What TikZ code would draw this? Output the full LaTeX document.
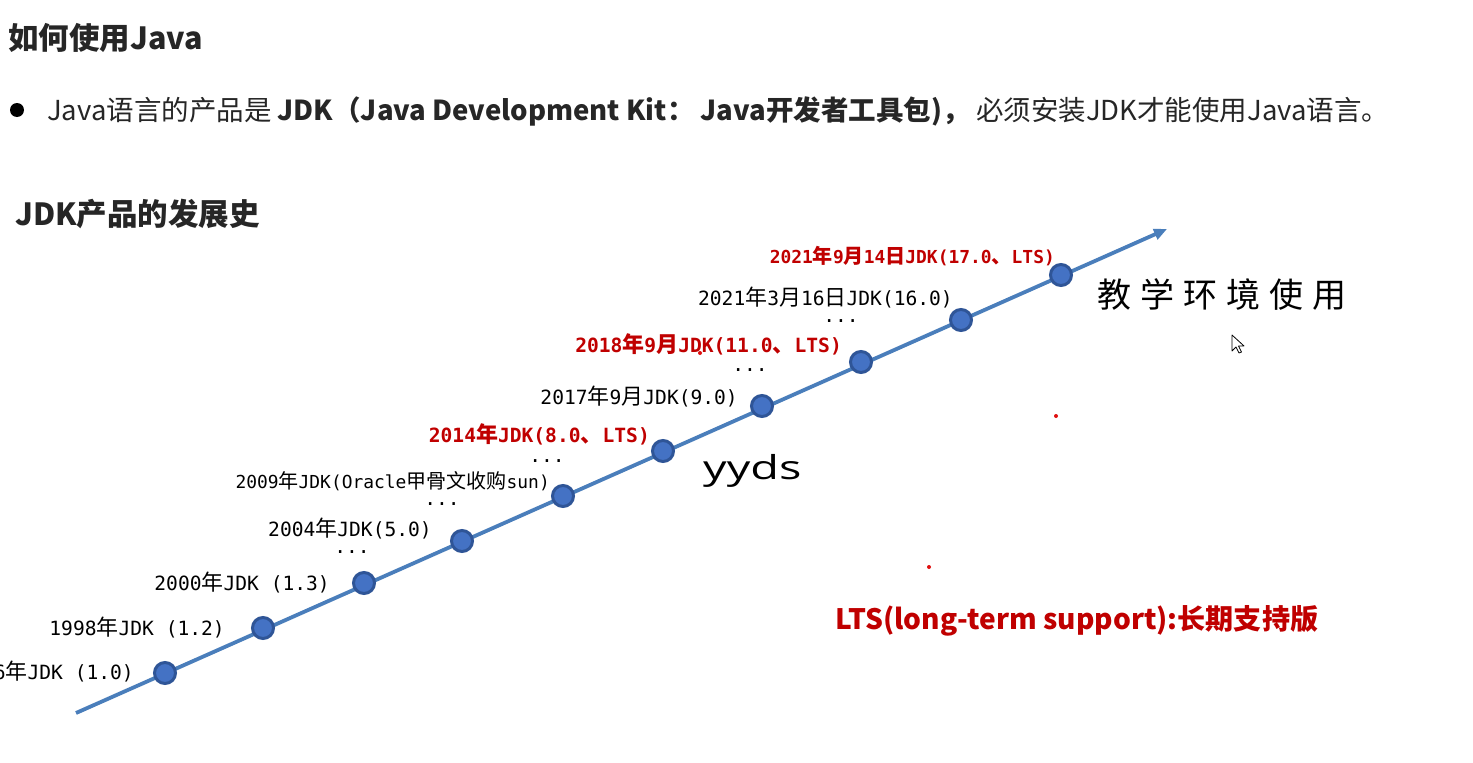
\documentclass[tikz,border=0pt]{standalone}
\usepackage{fontspec}
\usetikzlibrary{arrows.meta}
\setmainfont{Noto Sans CJK SC}
\newfontfamily\cjh{Noto Sans CJK SC}
\newfontfamily\cjm{Noto Sans CJK SC}[Scale=1.12]
\newfontfamily\monof{DejaVu Sans Mono}
\newfontfamily\yyfont{Open Sans}
\newcommand\C[1]{{\cjm #1}}
\definecolor{ink}{HTML}{262626}
\definecolor{ltsred}{HTML}{C00000}
\definecolor{lineblue}{HTML}{4A7EBB}
\definecolor{dotfill}{HTML}{4472C4}
\definecolor{dotedge}{HTML}{2F5597}
\definecolor{speck}{HTML}{E01010}
\tikzset{
  lbl/.style={font=\monof\fontsize{19.6}{22}\selectfont, inner sep=0, anchor=east, text=black},
  lblsmall/.style={lbl, font=\monof\fontsize{17.9}{20}\selectfont},
  lblred/.style={lbl, font=\monof\bfseries\fontsize{19.6}{22}\selectfont, text=ltsred},
  lblredsmall/.style={lbl, font=\monof\bfseries\fontsize{17.9}{20}\selectfont, text=ltsred},
  ell/.style={font=\monof\fontsize{19.6}{22}\selectfont, inner sep=0, anchor=base, text=black, text height=3pt, text depth=0pt},
  dot/.style={circle, minimum size=21pt, inner sep=0, fill=dotfill, draw=dotedge, line width=3pt},
  timeline/.style={draw=lineblue, line width=3.8pt, -{Triangle[length=13pt,width=11pt]}},
  heading/.style={font=\cjh\bfseries\fontsize{30.5}{34}\selectfont, text=ink, inner sep=0, anchor=base west},
  bodytext/.style={font=\cjh\fontsize{27.5}{30}\selectfont, text=ink, inner sep=0, anchor=base west},
  speckdot/.style={circle, fill=speck, minimum size=4pt, inner sep=0},
}
\begin{document}
\begin{tikzpicture}[x=1pt,y=-1pt]
\useasboundingbox (0,0) rectangle (1473,763);
\clip (0,0) rectangle (1473,763);
\fill[white] (0,0) rectangle (1473,763);

% headings
\node[heading] (title) at (8,49) {如何使用Java};
\node[circle, fill=black, minimum size=14pt, inner sep=0] (bullet) at (17,110) {};
\node[bodytext] (intro) at (47,120) {Java语言的产品是 {\bfseries JDK（Java Development Kit： Java开发者工具包)，} 必须安装JDK才能使用Java语言。};
\node[heading] (hist) at (15,225) {JDK产品的发展史};

% timeline
\coordinate (ts) at (76,713);
\coordinate (te) at (1167,229);
\draw[timeline] (ts) -- (te);

\node[dot] (d1) at (165,673) {};
\node[dot] (d2) at (263,628) {};
\node[dot] (d3) at (364,583) {};
\node[dot] (d4) at (462,541) {};
\node[dot] (d5) at (563,496) {};
\node[dot] (d6) at (663,451) {};
\node[dot] (d7) at (762,406) {};
\node[dot] (d8) at (861,362) {};
\node[dot] (d9) at (961,320) {};
\node[dot] (d10) at (1061,275) {};

% labels
\node[lbl] (l1) at (134,672) {1996\C{年}JDK (1.0)};
\node[lbl] (l2) at (225,628) {1998\C{年}JDK (1.2)};
\node[lbl] (l3) at (330,583) {2000\C{年}JDK (1.3)};
\node[ell] (e1) at (352,553) {...};
\node[lbl] (l4) at (432,529) {2004\C{年}JDK(5.0)};
\node[ell] (e2) at (442,505) {...};
\node[lblsmall] (l5) at (550,481) {2009\C{年}JDK(Oracle\C{甲骨文收购}sun)};
\node[ell] (e3) at (547,462) {...};
\node[lblred] (l6) at (650,434) {2014\C{年}JDK(8.0\C{、}LTS)};
\node[lbl] (l7) at (738,397) {2017\C{年}9\C{月}JDK(9.0)};
\node[ell] (e4) at (750,371) {...};
\node[lblred] (l8) at (842,344) {2018\C{年}9\C{月}JDK(11.0\C{、}LTS)};
\node[ell] (e5) at (841,322) {...};
\node[lbl] (l9) at (953,298) {2021\C{年}3\C{月}16\C{日}JDK(16.0)};
\node[lblredsmall] (l10) at (1055,256) {2021\C{年}9\C{月}14\C{日}JDK(17.0\C{、}LTS)};

% handwritten notes
\node[font=\cjh\fontsize{34}{36}\selectfont, inner sep=0, anchor=west, text=black] (teach) at (1097,295) {教\hspace{9pt}学\hspace{9pt}环\hspace{9pt}境\hspace{9pt}使\hspace{9pt}用};
\node[font=\yyfont\fontsize{33}{36}\selectfont, inner sep=0, anchor=base west, text=black] (yyds) at (703,479) {\scalebox{1.42}[1]{yyds}};

% LTS note
\node[font=\cjh\bfseries\fontsize{28.1}{31}\selectfont, text=ltsred, inner sep=0, anchor=base west] (lts) at (835,629) {LTS(long-term support):长期支持版};

% red specks
\node[speckdot] (s1) at (700,353) {};
\node[speckdot] (s2) at (1056,416) {};
\node[speckdot] (s3) at (929,567) {};

% mouse pointer
\coordinate (cur) at (1232,335);
\draw[black, fill=white, line width=0.8pt, line join=round] (cur) -- ++(0,16) -- ++(4,-4) -- ++(3,6) -- ++(2.5,-1) -- ++(-3,-6) -- ++(5.5,0) -- cycle;
\end{tikzpicture}
\end{document}
